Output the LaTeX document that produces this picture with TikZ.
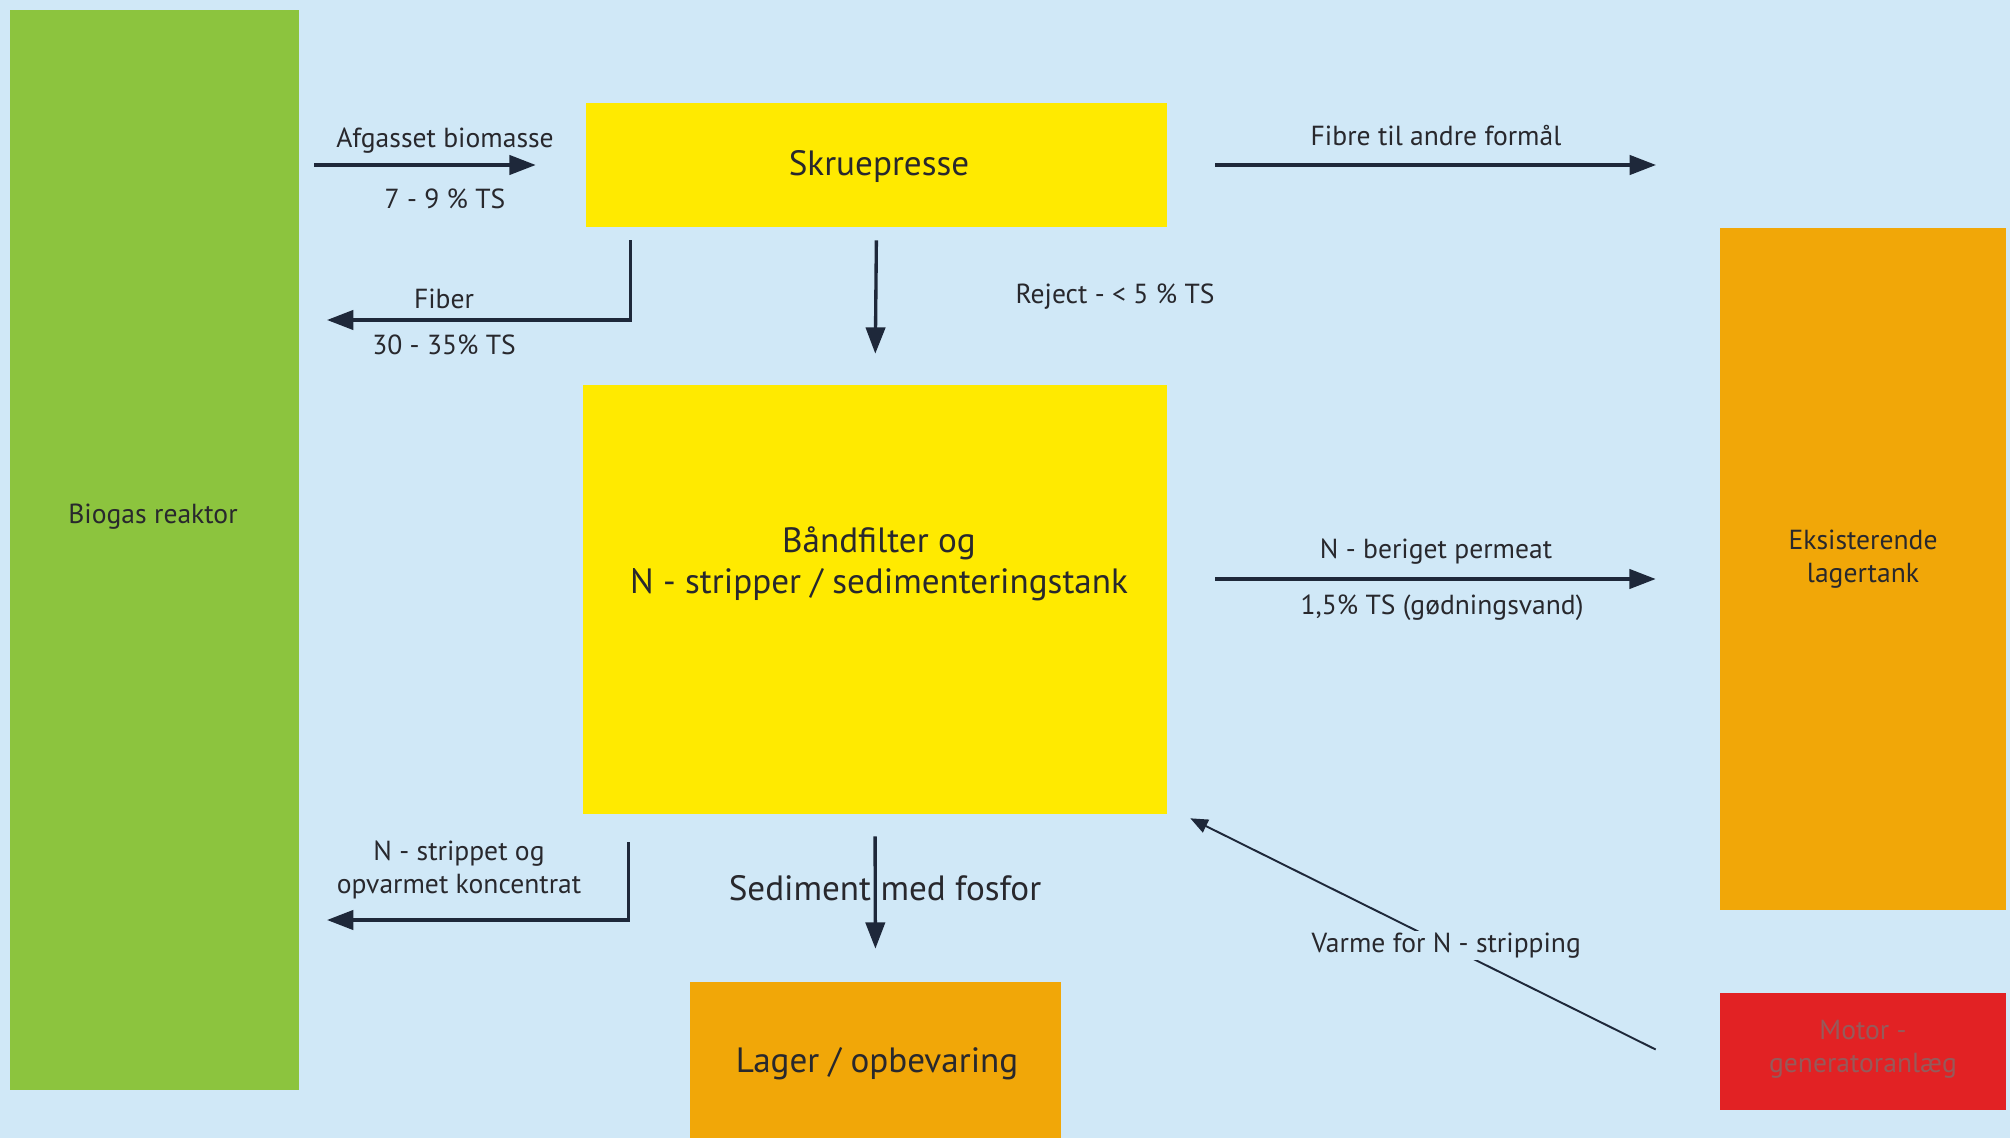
\documentclass[tikz,border=0pt]{standalone}
\usepackage{fontspec}
\setmainfont{PT Sans}
\usetikzlibrary{arrows.meta,calc}
\definecolor{bgblue}{RGB}{208,232,247}
\definecolor{biogreen}{RGB}{140,196,62}
\definecolor{boxyellow}{RGB}{255,234,0}
\definecolor{boxorange}{RGB}{241,167,8}
\definecolor{boxred}{RGB}{226,34,36}
\definecolor{arrowcol}{RGB}{30,40,58}
\definecolor{txtcol}{RGB}{40,40,45}
\definecolor{motortxtcol}{RGB}{150,90,90}
\tikzset{
  box/.style={draw=none, inner sep=0pt, align=center, text=txtcol},
  arr/.style={draw=arrowcol, line width=1.9pt, -{Triangle[length=15pt,width=11pt]}},
  thinarr/.style={draw=arrowcol, line width=1.1pt, -{Triangle[length=10pt,width=8pt]}},
  smalltxt/.style={text=txtcol, font=\fontsize{15.7}{19}\selectfont, align=center, inner sep=1pt},
  bigtxt/.style={text=txtcol, font=\fontsize{20}{23}\selectfont, align=center, inner sep=1pt},
}
\begin{document}
\begin{tikzpicture}[x=0.02cm, y=-0.02cm]
\fill[bgblue] (0,0) rectangle (2010,1138);
\useasboundingbox (0,0) rectangle (2010,1138);
% boxes
\node[box, fill=biogreen, minimum width=5.78cm, minimum height=21.6cm] (bio) at (154.5,550) {};
\node[box, fill=boxyellow, minimum width=11.62cm, minimum height=2.48cm] (skrue) at (876.5,165) {};
\node[box, fill=boxyellow, minimum width=11.68cm, minimum height=8.58cm] (band) at (875,599.5) {};
\node[box, fill=boxorange, minimum width=7.42cm, minimum height=3.12cm] (lager) at (875.5,1060) {};
\node[box, fill=boxorange, minimum width=5.72cm, minimum height=13.64cm] (eks) at (1863,569) {};
\node[box, fill=boxred, minimum width=5.72cm, minimum height=2.34cm] (motor) at (1863,1051.5) {};
% box texts
\node[smalltxt] (biotxt) at (153,517) {Biogas reaktor};
\node[bigtxt] (skruetxt) at (879,167) {Skruepresse};
\node[bigtxt] (bandtxt) at (879,564) {Båndfilter og\\N - stripper / sedimenteringstank};
\node[bigtxt] (lagertxt) at (877,1064) {Lager / opbevaring};
\node[smalltxt] (ekstxt) at (1863,559) {Eksisterende\\lagertank};
\node[smalltxt, text=motortxtcol] (motortxt) at (1863,1049) {Motor -\\generatoranlæg};
% coordinates for free ends
\coordinate (fibend) at (327,320);
\coordinate (nstripend) at (327,920);
\coordinate (fibreend) at (1656,165);
\coordinate (permy) at (1200,579);
% connectors
\draw[arr, shorten <=0.3cm, shorten >=1cm] (bio.east |- skrue.west) -- (skrue.west);
\draw[arr] ($(skrue.south west)+(45,13)$) |- (fibend);
\draw[arr, shorten <=0.26cm, shorten >=0.62cm] (skrue.south) -- (band.north);
\draw[arr, shorten <=0.96cm] (skrue.east) -- (fibreend);
\draw[arr, shorten <=0.96cm, shorten >=1.28cm] (band.east |- permy) -- (eks.west |- permy);
\draw[arr] ($(band.south west)+(46,28)$) |- (nstripend);
\draw[arr, shorten <=0.44cm, shorten >=0.66cm] (band.south) -- (lager.north);
\draw[thinarr] ($(motor.west)+(-64,-2)$) -- ($(band.south east)+(23,4)$)
  node[pos=0.45, smalltxt, fill=bgblue, inner sep=1pt] (varmetxt) {Varme for N - stripping};
% connector labels
\node[smalltxt] (l1) at (445,141) {Afgasset biomasse};
\node[smalltxt] (l2) at (445,199) {7 - 9 \% TS};
\node[smalltxt] (l3) at (444,299) {Fiber};
\node[smalltxt] (l4) at (444,345) {30 - 35\% TS};
\node[smalltxt] (l5) at (1115,297) {Reject - < 5 \% TS};
\node[smalltxt] (l6) at (1436,136) {Fibre til andre formål};
\node[smalltxt] (l7) at (1436,552) {N - beriget permeat};
\node[smalltxt] (l8) at (1442,608) {1,5\% TS (gødningsvand)};
\node[smalltxt] (l9) at (459,870) {N - strippet og\\opvarmet koncentrat};
\node[bigtxt] (l10) at (885,888) {Sediment med fosfor};
\end{tikzpicture}
\end{document}
